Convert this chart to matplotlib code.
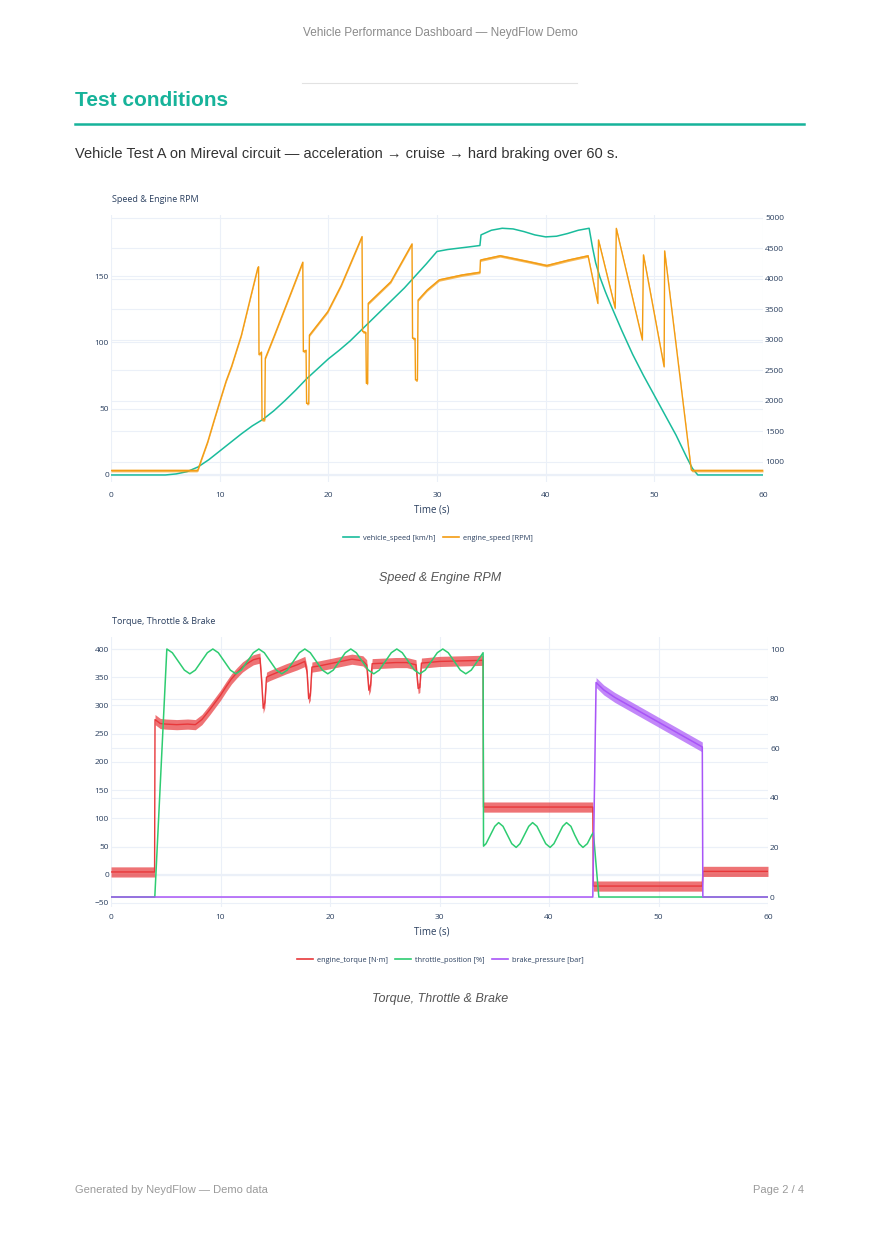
import matplotlib
matplotlib.use('Agg')
import matplotlib.pyplot as plt
from matplotlib.lines import Line2D
from matplotlib.transforms import blended_transform_factory
import numpy as np

# ---- values ----
speed_t = [0, 5, 6, 7, 8, 9, 10, 11, 12, 13, 14, 15, 16, 17, 18, 19, 20, 21, 22, 23,
           24, 25, 26, 27, 28, 29, 30, 31, 32, 33, 33.95, 34.05, 35, 36, 37, 38, 39, 40,
           41, 42, 43, 44, 44.3, 44.6, 45, 45.5, 46, 47, 48, 49, 50, 51, 52, 53, 53.5, 54, 60]
speed_kmh = [0, 0, 0.8, 2.5, 6, 11.5, 18, 24.5, 31, 37, 42, 48.5, 56, 64, 72.5, 80, 87.5, 94, 101, 109,
             117, 125, 133, 141, 150, 159, 168.5, 170, 171, 172, 173, 181, 184.5, 186, 185.5, 183.5, 181, 179.5,
             180, 182, 184.5, 186, 172, 160, 149, 138, 128, 109, 91, 75, 60, 45, 30, 13, 5, 0, 0]

rpm_t = [0, 7.9, 8.0, 8.3, 8.9, 9.5, 10.2, 10.6, 11.1, 12.0, 12.9, 13.5, 13.58,
         13.62, 13.85, 13.9, 14.15, 14.2, 15.05, 16.6, 17.65,
         17.7, 17.95, 18.0, 18.2, 18.26, 19.95, 21.2, 23.1,
         23.15, 23.45, 23.5, 23.62, 23.67, 25.75, 27.7,
         27.75, 27.98, 28.02, 28.2, 28.26, 29.1, 30.2, 32.3, 33.95,
         34.0, 35.8, 38.4, 40.1, 42.1, 43.9,
         44.8, 44.86, 46.4, 46.5, 48.9, 49.0, 50.9, 50.95, 53.4, 53.5, 60]
rpm = [860, 860, 870, 1030, 1330, 1690, 2100, 2330, 2570, 3080, 3740, 4175, 4200,
       2760, 2800, 1690, 1690, 2700, 3080, 3790, 4275,
       2810, 2830, 1960, 1960, 3080, 3465, 3900, 4695,
       3140, 3120, 2290, 2290, 3600, 3955, 4575,
       3030, 3020, 2345, 2345, 3655, 3820, 3985, 4065, 4110,
       4310, 4380, 4285, 4220, 4310, 4380,
       3600, 4640, 3520, 4830, 3000, 4395, 2560, 4460, 870, 860, 860]
rpm_noise = 22

torque_t = [0, 3.98, 4.02, 4.5, 5, 6, 7, 7.7, 8.3, 9, 9.5, 10, 10.5, 11, 11.5, 12, 12.5, 13, 13.6, 13.75,
            13.9, 14.05, 14.2, 14.5, 15, 16, 17, 17.7, 17.9, 18.05, 18.2, 18.35, 19, 20, 21, 22, 23, 23.35,
            23.55, 23.7, 23.85, 25, 26, 27, 27.85, 28.05, 28.2, 28.35, 30, 32, 33.98, 34.02, 44.0, 44.05,
            54.0, 54.05, 60]
torque = [5, 5, 275, 268, 267, 266, 267, 266, 275, 292, 305, 318, 333, 347, 358, 368, 375, 381, 384, 345,
          295, 305, 350, 353, 357, 365, 372, 378, 360, 312, 318, 368, 370, 374, 378, 382, 379, 372,
          327, 335, 374, 375, 376, 376, 372, 330, 332, 375, 378, 379, 380, 120, 120, -20,
          -20, 6, 6]
torque_noise = 9

throttle_t = [0, 4.0,
              5.1, 5.6, 6.15, 6.7, 7.2, 7.7, 8.25, 8.8, 9.3,
              9.8, 10.35, 10.9, 11.4, 11.9, 12.45, 13.0, 13.5,
              14.0, 14.55, 15.1, 15.6, 16.1, 16.65, 17.2, 17.7,
              18.2, 18.75, 19.3, 19.8, 20.3, 20.85, 21.4, 21.9,
              22.4, 22.95, 23.5, 24.0, 24.5, 25.05, 25.6, 26.1,
              26.6, 27.15, 27.7, 28.2, 28.7, 29.25, 29.8, 30.3,
              30.8, 31.35, 31.9, 32.4, 32.9, 33.45, 33.98,
              34.02, 34.25, 34.65, 35.05, 35.4, 35.8, 36.2, 36.6, 37.0,
              37.35, 37.75, 38.15, 38.5, 38.9, 39.3, 39.7, 40.1,
              40.45, 40.85, 41.25, 41.6, 42.0, 42.35, 42.75, 43.1,
              43.5, 43.9, 44.05, 44.55, 60]
throttle = [0, 0,
            100, 98.5, 95, 91.5, 90, 91.5, 95, 98.5, 100,
            98.5, 95, 91.5, 90, 91.5, 95, 98.5, 100,
            98.5, 95, 91.5, 90, 91.5, 95, 98.5, 100,
            98.5, 95, 91.5, 90, 91.5, 95, 98.5, 100,
            98.5, 95, 91.5, 90, 91.5, 95, 98.5, 100,
            98.5, 95, 91.5, 90, 91.5, 95, 98.5, 100,
            98.5, 95, 91.5, 90, 91.5, 95, 98.5,
            20.5, 21.5, 25, 28.5, 30, 28.5, 25, 21.5, 20,
            21.5, 25, 28.5, 30, 28.5, 25, 21.5, 20,
            21.5, 25, 28.5, 30, 28.5, 25, 21.5, 20,
            21.5, 25, 26, 0, 0]

brake_t = [0, 44.0, 44.3, 45, 46, 47, 48, 49, 50, 51, 52, 53, 54.0, 54.05, 60]
brake = [0, 0, 86.5, 83.5, 80.5, 78, 75.5, 73, 70.5, 68, 65.5, 63, 60.5, 0, 0]
brake_noise = [0, 0, 2, 2, 2, 2, 2, 2, 2, 2, 2, 2, 2, 0, 0]

speed_ticks = [0, 50, 100, 150]
rpm_ticks = [1000, 1500, 2000, 2500, 3000, 3500, 4000, 4500, 5000]
torque_ticks = [-50, 0, 50, 100, 150, 200, 250, 300, 350, 400]
pct_ticks = [0, 20, 40, 60, 80, 100]
time_ticks = [0, 10, 20, 30, 40, 50, 60]

assert len(speed_t) == len(speed_kmh)
assert len(rpm_t) == len(rpm)
assert len(torque_t) == len(torque)
assert len(throttle_t) == len(throttle)
assert len(brake_t) == len(brake) == len(brake_noise)

TEAL = '#1abc9c'
ORANGE = '#f39c12'
RED = '#e8383b'
GREEN = '#2ecc71'
PURPLE = '#a855f7'
INK = '#2a3f5f'
GRID = '#ebf0f8'

plt.rcParams['font.family'] = ['Open Sans', 'DejaVu Sans']

W, H = 880, 1243
fig = plt.figure(figsize=(W / 100, H / 100), dpi=100)


def fx(x):
    return x / W


def fy(y):
    return 1 - y / H


def box(x0, y0, x1, y1):
    return [fx(x0), fy(y1), fx(x1) - fx(x0), fy(y0) - fy(y1)]


def style(ax, ticks):
    for s in ax.spines.values():
        s.set_visible(False)
    ax.set_yticks(ticks)
    ax.tick_params(length=0, labelsize=6, colors=INK, pad=1.5)


def grids(ax, axr, left_ticks, right_ticks):
    # all gridlines live on the left axes so they stay under every trace
    ax.grid(axis='both', color=GRID, lw=0.8)
    ax.set_axisbelow(True)
    tr = blended_transform_factory(ax.transAxes, axr.transData)
    for v in right_ticks:
        ax.add_line(Line2D([0, 1], [v, v], transform=tr, color=GRID, lw=0.8, zorder=0.5))
    ax.axhline(0, color=GRID, lw=1.6, zorder=0.6)


# ---- page text ----
page_font = ['Liberation Sans', 'DejaVu Sans']
fig.text(fx(440), fy(33), 'Vehicle Performance Dashboard — NeydFlow Demo', ha='center', va='center',
         fontsize=8.5, color='#8a8a8a', family=page_font)
fig.add_artist(Line2D([fx(302), fx(577)], [fy(83), fy(83)], color='#e2e2e2', lw=0.8))
fig.text(fx(75), fy(100), 'Test conditions', ha='left', va='center', fontsize=15, fontweight='bold',
         color='#17b39a', family=page_font)
fig.add_artist(Line2D([fx(75), fx(804)], [fy(124), fy(124)], color='#17b39a', lw=1.8))
fig.text(fx(75), fy(154), 'Vehicle Test A on Mireval circuit — acceleration → cruise → hard braking over 60 s.',
         ha='left', va='center', fontsize=10.5, color='#333333', family=page_font)

# ---- chart 1: speed & rpm ----
ax1 = fig.add_axes(box(111, 215, 763, 482))
ax1.set_xlim(0, 60)
ax1.set_ylim(-5.3, 196)
ax1.set_xticks(time_ticks)
style(ax1, speed_ticks)
ax1.tick_params(axis='x', pad=7)
ax1b = ax1.twinx()
ax1b.set_ylim(672, 5049)
style(ax1b, rpm_ticks)
grids(ax1, ax1b, speed_ticks, rpm_ticks)

ax1.plot(speed_t, speed_kmh, color=TEAL, lw=1.1)
r = np.array(rpm)
ax1b.fill_between(rpm_t, r - rpm_noise, r + rpm_noise, color=ORANGE, lw=0, alpha=0.7)
ax1b.plot(rpm_t, rpm, color=ORANGE, lw=1.0)

fig.text(fx(112), fy(200), 'Speed & Engine RPM', ha='left', va='center', fontsize=6.5, color=INK)
fig.text(fx(432), fy(510), 'Time (s)', ha='center', va='center', fontsize=7, color=INK)
h1 = [Line2D([], [], color=TEAL, lw=1.2), Line2D([], [], color=ORANGE, lw=1.2)]
leg = fig.legend(h1, ['vehicle_speed [km/h]', 'engine_speed [RPM]'], loc='center',
                 bbox_to_anchor=(fx(438), fy(538)), ncol=2, frameon=False, fontsize=5.3,
                 handlelength=2.2, handletextpad=0.5, columnspacing=1.0)
for t in leg.get_texts():
    t.set_color(INK)
fig.text(fx(440), fy(578), 'Speed & Engine RPM', ha='center', va='center', fontsize=9,
         style='italic', color='#555555', family=page_font)

# ---- chart 2: torque, throttle, brake ----
ax2 = fig.add_axes(box(111, 637, 768, 907))
ax2.set_xlim(0, 60)
ax2.set_ylim(-57.1, 421.3)
ax2.set_xticks(time_ticks)
style(ax2, torque_ticks)
ax2.tick_params(axis='x', pad=5)
ax2.set_yticklabels(['−50' if v < 0 else str(v) for v in torque_ticks])
ax2b = ax2.twinx()
ax2b.set_ylim(-4.03, 104.84)
style(ax2b, pct_ticks)
grids(ax2, ax2b, torque_ticks, pct_ticks)

q = np.array(torque)
ax2.fill_between(torque_t, q - torque_noise, q + torque_noise, color=RED, lw=0, alpha=0.7)
ax2.plot(torque_t, torque, color=RED, lw=1.0)
ax2b.plot(throttle_t, throttle, color=GREEN, lw=1.1)
b = np.array(brake)
bn = np.array(brake_noise)
ax2b.fill_between(brake_t, b - bn, b + bn, color=PURPLE, lw=0, alpha=0.7)
ax2b.plot(brake_t, brake, color=PURPLE, lw=1.1)

fig.text(fx(112), fy(621), 'Torque, Throttle & Brake', ha='left', va='center', fontsize=6.5, color=INK)
fig.text(fx(432), fy(932), 'Time (s)', ha='center', va='center', fontsize=7, color=INK)
h2 = [Line2D([], [], color=RED, lw=1.2), Line2D([], [], color=GREEN, lw=1.2),
      Line2D([], [], color=PURPLE, lw=1.2)]
leg2 = fig.legend(h2, ['engine_torque [N·m]', 'throttle_position [%]', 'brake_pressure [bar]'],
                  loc='center', bbox_to_anchor=(fx(440), fy(960)), ncol=3, frameon=False, fontsize=5.3,
                  handlelength=2.2, handletextpad=0.5, columnspacing=1.0)
for t in leg2.get_texts():
    t.set_color(INK)
fig.text(fx(440), fy(999), 'Torque, Throttle & Brake', ha='center', va='center', fontsize=9,
         style='italic', color='#555555', family=page_font)

# ---- footer ----
fig.text(fx(75), fy(1190), 'Generated by NeydFlow — Demo data', ha='left', va='center', fontsize=8,
         color='#9a9a9a', family=page_font)
fig.text(fx(804), fy(1190), 'Page 2 / 4', ha='right', va='center', fontsize=8,
         color='#9a9a9a', family=page_font)

fig.savefig('out.png', dpi=100)
